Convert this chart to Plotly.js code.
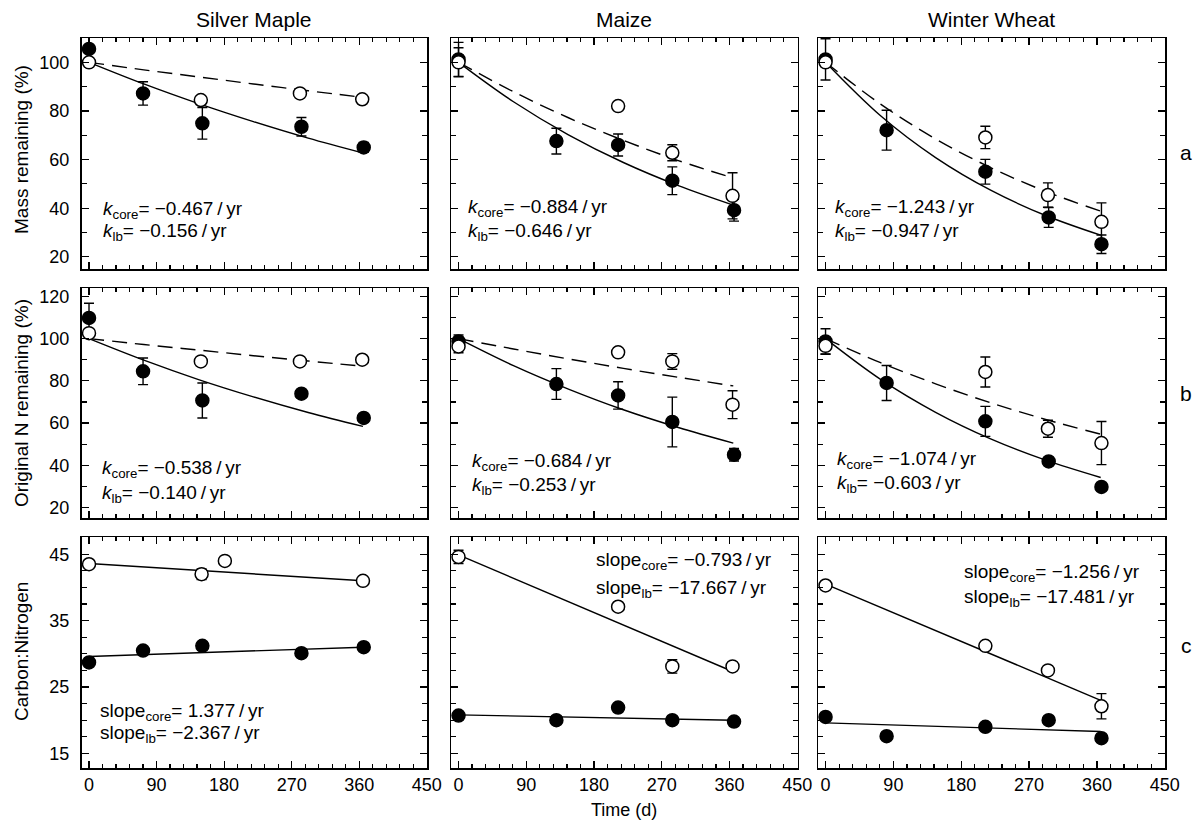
<!DOCTYPE html>
<html>
<head>
<meta charset="utf-8">
<script src="https://cdn.plot.ly/plotly-3.0.1.min.js"></script>
<style>html,body{margin:0;padding:0;background:#fff;}#chart{width:1199px;height:822px;}</style>
</head>
<body>
<div id="chart"></div>
<script>
// ---------------- DATA ----------------
const columnTitles = ["Silver Maple", "Maize", "Winter Wheat"];
const rowLetters = ["a", "b", "c"];
const yTitles = ["Mass remaining (%)", "Original N remaining (%)", "Carbon:Nitrogen"];
const xTickVals = [0, 90, 180, 270, 360, 450];

// sampling days (d)
const smDaysCore = [0, 72, 151, 283, 366];
const smDaysLb = [0, 149, 281, 364];
const smDaysLbCN = [0, 150, 181, 365];
const mzDaysCore = [0, 130, 212, 284, 366];
const mzDaysLb = [0, 212, 284, 364];
const wwDaysCore = [0, 81, 212, 296, 366];
const wwDaysLb = [0, 212, 295, 366];

// Row a: mass remaining (%)
const smMassCore = [105.5, 87.2, 74.9, 73.5, 65.0];
const smMassCoreErr = [0, 4.8, 6.5, 3.8, 2.0];
const smMassLb = [100, 84.5, 87.2, 84.8];
const smMassLbErr = [0, 0, 0, 0];
const mzMassCore = [101.2, 67.6, 66.0, 51.3, 39.2];
const mzMassCoreErr = [7, 5.3, 4.5, 5.7, 4.5];
const mzMassLb = [100, 82, 62.8, 45.1];
const mzMassLbErr = [6, 0, 3.3, 9.5];
const wwMassCore = [101.2, 72.1, 55.0, 36.2, 25.2];
const wwMassCoreErr = [8.5, 8.2, 5.1, 4.1, 3.8];
const wwMassLb = [100, 69.1, 45.4, 34.4];
const wwMassLbErr = [0, 4.6, 5.0, 7.8];

// Row b: original N remaining (%)
const smNCore = [109.8, 84.5, 70.7, 73.9, 62.4];
const smNCoreErr = [7, 6.3, 8.3, 1.5, 1.5];
const smNLb = [102.6, 89.2, 89.2, 90.0];
const smNLbErr = [0, 0, 0, 0];
const mzNCore = [98.7, 78.5, 73.1, 60.5, 45.0];
const mzNCoreErr = [3, 7.3, 6.5, 11.8, 3];
const mzNLb = [96.3, 93.5, 89.2, 68.7];
const mzNLbErr = [3, 0, 3.7, 6.6];
const wwNCore = [98.7, 79.0, 60.8, 41.8, 29.7];
const wwNCoreErr = [6, 8.3, 7.1, 1, 1];
const wwNLb = [96.6, 84.2, 57.3, 50.5];
const wwNLbErr = [4, 7.1, 4, 10.2];

// Row c: carbon:nitrogen
const smCNCore = [28.7, 30.5, 31.2, 30.1, 31.0];
const smCNCoreErr = [0.5, 0.5, 0.6, 0.6, 0.5];
const smCNLb = [43.5, 42.0, 44.0, 41.0];
const smCNLbErr = [0, 0.8, 0, 0.6];
const mzCNCore = [20.7, 20.0, 21.9, 20.0, 19.8];
const mzCNCoreErr = [0, 0, 0, 0, 0];
const mzCNLb = [44.6, 37.1, 28.1, 28.1];
const mzCNLbErr = [1, 0, 1, 0];
const wwCNCore = [20.5, 17.6, 19.0, 20.0, 17.3];
const wwCNCoreErr = [0, 0, 0, 0, 0];
const wwCNLb = [40.3, 31.2, 27.5, 22.1];
const wwCNLbErr = [0, 0, 0, 1.9];

// fitted curves
const fitDays = [0, 73, 146, 219, 292, 365];
const smMassFitCore = [100, 91.1, 83.0, 75.6, 68.8, 62.7];
const smMassFitLb = [100, 96.9, 94.0, 91.1, 88.3, 85.6];
const mzMassFitCore = [100, 83.8, 70.2, 58.8, 49.3, 41.3];
const mzMassFitLb = [100, 87.9, 77.2, 67.9, 59.6, 52.4];
const wwMassFitCore = [100, 78.0, 60.8, 47.4, 37.0, 28.9];
const wwMassFitLb = [100, 82.8, 68.5, 56.7, 46.9, 38.8];
const smNFitCore = [100, 89.8, 80.6, 72.4, 65.0, 58.4];
const smNFitLb = [100, 97.2, 94.6, 91.9, 89.4, 86.9];
const mzNFitCore = [100, 87.2, 76.1, 66.3, 57.9, 50.5];
const mzNFitLb = [100, 95.1, 90.4, 85.9, 81.7, 77.6];
const wwNFitCore = [100, 80.7, 65.1, 52.5, 42.4, 34.2];
const wwNFitLb = [100, 88.6, 78.6, 69.6, 61.7, 54.7];
const cnFitDays = [0, 365];
const smCNFitCore = [29.6, 31.0];
const smCNFitLb = [43.6, 41.0];
const mzCNFitCore = [20.8, 20.0];
const mzCNFitLb = [44.9, 27.3];
const wwCNFitCore = [19.6, 18.3];
const wwCNFitLb = [40.5, 23.0];

// rate labels
const kCore = ["−0.467", "−0.884", "−1.243", "−0.538", "−0.684", "−1.074"];
const kLb = ["−0.156", "−0.646", "−0.947", "−0.140", "−0.253", "−0.603"];
const slopeCore = ["1.377", "−0.793", "−1.256"];
const slopeLb = ["−2.367", "−17.667", "−17.481"];

// ---------------- LAYOUT ----------------
const W = 1199, H = 822;
const colX = [[81.5, 427], [451, 797.5], [818, 1165]];
const rowY = [[38, 269], [288, 518], [537, 768]];
const yRanges = [[15, 110], [15, 124], [12.8, 47.6]];
const yDticks = [20, 20, 10];
const yTick0s = [0, 0, 15];
const yMinor = [10, 10, 2.5];
const FONT = '"Liberation Sans", Arial, Helvetica, sans-serif';
const TS = '\u2009';

const panels = [
  {fits: [[fitDays, smMassFitCore, 'solid'], [fitDays, smMassFitLb, 'dash']], core: [smDaysCore, smMassCore, smMassCoreErr], lb: [smDaysLb, smMassLb, smMassLbErr]},
  {fits: [[fitDays, mzMassFitCore, 'solid'], [fitDays, mzMassFitLb, 'dash']], core: [mzDaysCore, mzMassCore, mzMassCoreErr], lb: [mzDaysLb, mzMassLb, mzMassLbErr]},
  {fits: [[fitDays, wwMassFitCore, 'solid'], [fitDays, wwMassFitLb, 'dash']], core: [wwDaysCore, wwMassCore, wwMassCoreErr], lb: [wwDaysLb, wwMassLb, wwMassLbErr]},
  {fits: [[fitDays, smNFitCore, 'solid'], [fitDays, smNFitLb, 'dash']], core: [smDaysCore, smNCore, smNCoreErr], lb: [smDaysLb, smNLb, smNLbErr]},
  {fits: [[fitDays, mzNFitCore, 'solid'], [fitDays, mzNFitLb, 'dash']], core: [mzDaysCore, mzNCore, mzNCoreErr], lb: [mzDaysLb, mzNLb, mzNLbErr]},
  {fits: [[fitDays, wwNFitCore, 'solid'], [fitDays, wwNFitLb, 'dash']], core: [wwDaysCore, wwNCore, wwNCoreErr], lb: [wwDaysLb, wwNLb, wwNLbErr]},
  {fits: [[cnFitDays, smCNFitCore, 'solid'], [cnFitDays, smCNFitLb, 'solid']], core: [smDaysCore, smCNCore, smCNCoreErr], lb: [smDaysLbCN, smCNLb, smCNLbErr]},
  {fits: [[cnFitDays, mzCNFitCore, 'solid'], [cnFitDays, mzCNFitLb, 'solid']], core: [mzDaysCore, mzCNCore, mzCNCoreErr], lb: [mzDaysLb, mzCNLb, mzCNLbErr]},
  {fits: [[cnFitDays, wwCNFitCore, 'solid'], [cnFitDays, wwCNFitLb, 'solid']], core: [wwDaysCore, wwCNCore, wwCNCoreErr], lb: [wwDaysLb, wwCNLb, wwCNLbErr]}
];

const traces = [];
const layout = {
  width: W, height: H,
  margin: {l: 0, r: 0, t: 0, b: 0},
  paper_bgcolor: '#fff', plot_bgcolor: '#fff',
  showlegend: false,
  font: {family: FONT, color: '#000', size: 18},
  annotations: []
};

panels.forEach((p, i) => {
  const r = Math.floor(i / 3), c = i % 3, k = i + 1;
  const xs = k === 1 ? '' : String(k);
  const xa = 'x' + xs, ya = 'y' + xs;
  p.fits.forEach(f => {
    traces.push({x: f[0], y: f[1], xaxis: xa, yaxis: ya, mode: 'lines', type: 'scatter',
      line: {color: '#000', width: 1.4, dash: f[2] === 'dash' ? '15px,8px' : 'solid', shape: 'spline'},
      hoverinfo: 'skip'});
  });
  const mk = (d, open) => ({
    x: d[0], y: d[1], xaxis: xa, yaxis: ya, mode: 'markers', type: 'scatter',
    marker: {symbol: 'circle', size: 13, color: open ? '#fff' : '#000', line: {color: '#000', width: 1.5}},
    error_y: {type: 'data', array: d[2], visible: true, color: '#000', thickness: 1.4, width: 5}
  });
  traces.push(mk(p.core, false));
  traces.push(mk(p.lb, true));

  layout['xaxis' + xs] = {
    domain: [colX[c][0] / W, colX[c][1] / W], anchor: ya,
    range: [-10, 450.3], tickmode: 'array', tickvals: xTickVals,
    ticks: 'inside', ticklen: 7, tickwidth: 1.2, tickcolor: '#000',
    minor: {tickmode: 'linear', tick0: 0, dtick: 18, ticks: 'inside', ticklen: 4, tickwidth: 1.2, tickcolor: '#000', showgrid: false},
    showline: true, linewidth: 1.5, linecolor: '#000', mirror: 'allticks',
    showgrid: false, zeroline: false, showticklabels: r === 2,
    tickfont: {size: 18, family: FONT, color: '#000'}, ticklabelstandoff: 0, fixedrange: true
  };
  layout['yaxis' + xs] = {
    domain: [1 - rowY[r][1] / H, 1 - rowY[r][0] / H], anchor: xa,
    range: yRanges[r], tickmode: 'linear', tick0: yTick0s[r], dtick: yDticks[r],
    ticks: 'inside', ticklen: 7, tickwidth: 1.2, tickcolor: '#000',
    minor: {tickmode: 'linear', tick0: 0, dtick: yMinor[r], ticks: 'inside', ticklen: 5, tickwidth: 1.2, tickcolor: '#000', showgrid: false},
    showline: true, linewidth: 1.5, linecolor: '#000', mirror: 'allticks',
    showgrid: false, zeroline: false, showticklabels: c === 0,
    tickfont: {size: 18, family: FONT, color: '#000'}, ticklabelstandoff: 7, fixedrange: true
  };
});

const ann = (x, y, text, opts) => Object.assign({
  xref: 'paper', yref: 'paper', x: x / W, y: 1 - y / H, text: text, showarrow: false,
  xanchor: 'left', yanchor: 'middle', font: {size: 19, family: FONT, color: '#000'}
}, opts || {});

// column titles
const colCenters = colX.map(cx => (cx[0] + cx[1]) / 2);
columnTitles.forEach((t, c) => layout.annotations.push(ann(colCenters[c], 20, t, {xanchor: 'center', font: {size: 21, family: FONT, color: '#000'}})));
// row letters
[152, 393, 645].forEach((y, r) => layout.annotations.push(ann(1186, y, rowLetters[r], {xanchor: 'center', font: {size: 21, family: FONT, color: '#000'}})));
// y titles
[150, 403, 652].forEach((y, r) => layout.annotations.push(ann(21, y, yTitles[r], {xanchor: 'center', textangle: -90})));
// x title
layout.annotations.push(ann(colCenters[1], 810, 'Time (d)', {xanchor: 'center', font: {size: 18, family: FONT, color: '#000'}}));

// rate annotations
const kPos = [[101, 210, 232], [466, 208, 232], [833, 208, 232], [100, 469, 494], [470, 462, 486], [835, 460, 484]];
kPos.forEach((p, i) => {
  layout.annotations.push(ann(p[0], p[1], '<i>k</i><sub>core</sub>= ' + kCore[i] + TS + '/' + TS + 'yr'));
  layout.annotations.push(ann(p[0], p[2], '<i>k</i><sub>lb</sub>= ' + kLb[i] + TS + '/' + TS + 'yr'));
});
const sPos = [[98, 712, 734], [594, 561, 589], [962, 573, 598]];
sPos.forEach((p, i) => {
  layout.annotations.push(ann(p[0], p[1], 'slope<sub>core</sub>= ' + slopeCore[i] + TS + '/' + TS + 'yr'));
  layout.annotations.push(ann(p[0], p[2], 'slope<sub>lb</sub>= ' + slopeLb[i] + TS + '/' + TS + 'yr'));
});

Plotly.newPlot('chart', traces, layout, {staticPlot: true, displayModeBar: false});
</script>
</body>
</html>
